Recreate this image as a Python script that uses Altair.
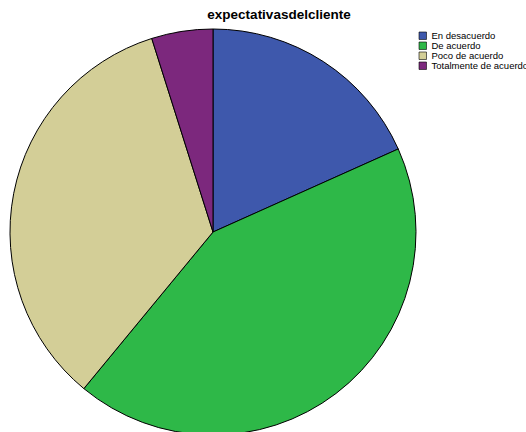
import altair as alt
import pandas as pd

categories = ["En desacuerdo", "De acuerdo", "Poco de acuerdo", "Totalmente de acuerdo"]
counts = [15, 35, 28, 4]
colors = ["#3E58AC", "#2EB848", "#D3CE97", "#7C287D"]
title_text = "expectativasdelcliente"

df = pd.DataFrame({"cat": categories, "n": counts, "ord": list(range(len(categories)))})

pie = alt.Chart(df).mark_arc(stroke="black", strokeWidth=1, radius=203).encode(
    theta=alt.Theta("n:Q", stack=True),
    order=alt.Order("ord:Q"),
    color=alt.Color(
        "cat:N",
        scale=alt.Scale(domain=categories, range=colors),
        sort=categories,
        legend=alt.Legend(
            title=None,
            orient="none",
            legendX=418,
            legendY=31,
            symbolType="square",
            symbolSize=56,
            symbolStrokeColor="black",
            symbolStrokeWidth=0.6,
            symbolOpacity=1,
            labelFont="Liberation Sans",
            labelFontSize=9.5,
            labelColor="black",
            labelOffset=4,
            rowPadding=-2,
            labelLimit=200,
        ),
    ),
    x=alt.value(213),
    y=alt.value(232),
)

title = alt.Chart(pd.DataFrame({"t": [title_text]})).mark_text(
    font="Liberation Sans", fontSize=13.5, fontWeight="bold", color="black", align="center", baseline="middle"
).encode(text="t:N", x=alt.value(279), y=alt.value(15))

chart = alt.layer(pie, title).properties(
    width=526, height=432, padding=0, autosize=alt.AutoSizeParams(type="none")
).configure_view(stroke=None)

chart.save("out.html", embed_options={"renderer": "svg", "actions": False})
